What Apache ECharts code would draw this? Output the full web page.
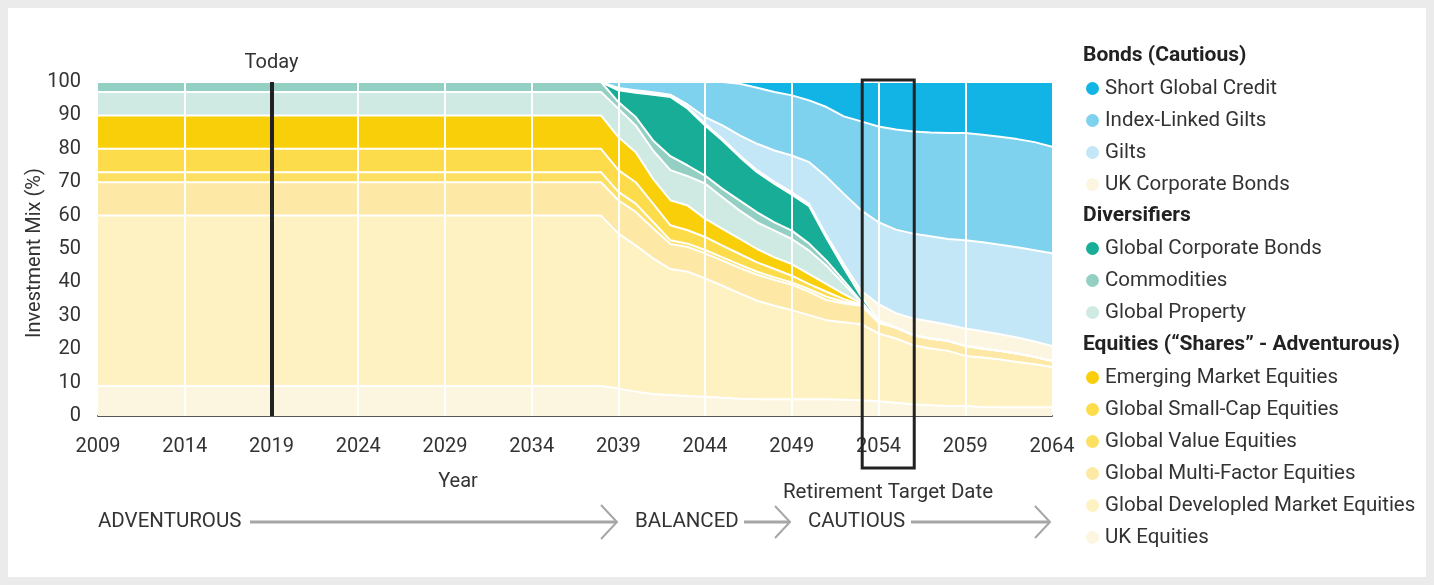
<!DOCTYPE html>
<html><head><meta charset="utf-8">
<script src="https://cdn.jsdelivr.net/npm/echarts@6/dist/echarts.min.js"></script>
<style>html,body{margin:0;padding:0;background:#ebebeb;}#c{width:1434px;height:585px;}</style>
</head><body><div id="c"></div>
<script>
const years = ['2009','2010','2011','2012','2013','2014','2015','2016','2017','2018',
 '2019','2020','2021','2022','2023','2024','2025','2026','2027','2028',
 '2029','2030','2031','2032','2033','2034','2035','2036','2037','2038',
 '2039','2040','2041','2042','2043','2044','2045','2046','2047','2048',
 '2049','2050','2051','2052','2053','2054','2055','2056','2057','2058',
 '2059','2060','2061','2062','2063','2064'];

const ukEquities = [9,9,9,9,9,9,9,9,9,9, 9,9,9,9,9,9,9,9,9,9, 9,9,9,9,9,9,9,9,9,9,
 8.2,7.3,6.6,6.3,6.0,5.8,5.5,5.2,5.0,5.0, 5.0,5.0,5.0,4.9,4.7,4.4,4.0,3.5,3.2,3.0, 3.0,2.7,2.6,2.6,2.6,2.6];
const globalDeveloped = [51,51,51,51,51,51,51,51,51,51, 51,51,51,51,51,51,51,51,51,51, 51,51,51,51,51,51,51,51,51,51,
 46.4,43.8,40.6,37.7,37.2,35.4,33.5,31.5,29.5,28, 26.7,25.2,23.7,23.2,22.8,20.3,19.2,17.7,17,16.5, 15,14.8,14.3,13.6,12.9,12.1];
const multiFactor = [10,10,10,10,10,10,10,10,10,10, 10,10,10,10,10,10,10,10,10,10, 10,10,10,10,10,10,10,10,10,10,
 10,10,9.0,7.5,7.4,7.5,7.5,7.6,7.8,7.7, 7.6,7.0,6.0,5.6,5.5,3.3,3.3,3.0,3.0,3.0, 3.0,2.7,2.6,2.5,2.2,1.8];
const valueEq = [3,3,3,3,3,3,3,3,3,3, 3,3,3,3,3,3,3,3,3,3, 3,3,3,3,3,3,3,3,3,3,
 2.5,2.5,1.9,1.1,1.0,1.0,1.0,1.0,0.9,0.8, 0.7,0.8,1.0,0.5,0.3,0,0,0,0,0, 0,0,0,0,0,0];
const smallCap = [7,7,7,7,7,7,7,7,7,7, 7,7,7,7,7,7,7,7,7,7, 7,7,7,7,7,7,7,7,7,7,
 6.5,6.4,5.5,4.5,4.0,3.9,3.5,3.2,2.8,2.5, 2.0,1.5,1.5,0.8,0.2,0,0,0,0,0, 0,0,0,0,0,0];
const emerging = [10,10,10,10,10,10,10,10,10,10, 10,10,10,10,10,10,10,10,10,10, 10,10,10,10,10,10,10,10,10,10,
 9.9,9.0,7.4,7.5,7.4,5.5,5.0,4.5,4.0,3.5, 3.5,3.0,2.3,1.5,0.3,0,0,0,0,0, 0,0,0,0,0,0];
const property = [7,7,7,7,7,7,7,7,7,7, 7,7,7,7,7,7,7,7,7,7, 7,7,7,7,7,7,7,7,7,7,
 8.5,8.0,8.5,9.0,8.8,10.5,9.5,8.5,8.0,8.0, 7.5,7.0,5.5,3.0,0.3,0,0,0,0,0, 0,0,0,0,0,0];
const commodities = [3,3,3,3,3,3,3,3,3,3, 3,3,3,3,3,3,3,3,3,3, 3,3,3,3,3,3,3,3,3,3,
 2.0,2.5,3.0,4.2,3.2,2.4,2.5,3.0,3.0,2.5, 2.5,2.1,1.5,1.0,0.2,0,0,0,0,0, 0,0,0,0,0,0];
const globalCorpBonds = [0,0,0,0,0,0,0,0,0,0, 0,0,0,0,0,0,0,0,0,0, 0,0,0,0,0,0,0,0,0,0,
 3.5,7.3,13.7,17.7,17,15,14.5,13,12,11.5, 10.8,11.2,6.7,3.8,1.5,0.6,0,0,0,0, 0,0,0,0,0,0];
const ukCorpBonds = [0,0,0,0,0,0,0,0,0,0, 0,0,0,0,0,0,0,0,0,0, 0,0,0,0,0,0,0,0,0,0,
 0.3,0.3,0.3,0.3,0.4,0.5,0.5,0.5,0.6,0.6, 0.7,0.7,0.8,1.2,1.7,4.9,4.3,5.0,5.1,4.8, 5.2,5.2,5.0,4.8,4.6,4.5];
const gilts = [0,0,0,0,0,0,0,0,0,0, 0,0,0,0,0,0,0,0,0,0, 0,0,0,0,0,0,0,0,0,0,
 0.4,0.4,0.4,0.4,0.8,2.0,4.0,6.0,7.9,9.4, 11,12.5,17.6,21,24.1,24.5,25,25.4,25.5,25.7, 26.4,26.6,26.8,27,27.3,27.7];
const indexLinked = [0,0,0,0,0,0,0,0,0,0, 0,0,0,0,0,0,0,0,0,0, 0,0,0,0,0,0,0,0,0,0,
 1.8,2.5,3.1,3.8,6.8,10.5,13,15.5,16.8,17.5, 18,18.5,20.9,23.2,26.6,28.7,30,30.6,31.1,31.7, 32.1,32.2,32.3,32.4,32.4,31.9];
const shortCredit = [0,0,0,0,0,0,0,0,0,0, 0,0,0,0,0,0,0,0,0,0, 0,0,0,0,0,0,0,0,0,0,
 0,0,0,0,0,0,0,0.5,1.7,3, 4,5.5,7.5,10.3,11.8,13.3,14.2,14.8,15.1,15.3, 15.3,15.8,16.4,17.1,18,19.4];

const gridYears = ['2014','2019','2024','2029','2034','2039','2044','2049','2054','2059'];
const todayYear = '2019';
const boxFrom = '2053', boxTo = '2056';

const bondsNames = ['Short Global Credit','Index-Linked Gilts','Gilts','UK Corporate Bonds'];
const divNames = ['Global Corporate Bonds','Commodities','Global Property'];
const eqNames = ['Emerging Market Equities','Global Small-Cap Equities','Global Value Equities','Global Multi-Factor Equities','Global Developled Market Equities','UK Equities'];

const FONT = 'Roboto, "Open Sans", sans-serif';
const TXT = '#333333';

const stackDefs = [
 ['UK Equities', ukEquities, '#fcf6e0'],
 ['Global Developled Market Equities', globalDeveloped, '#fef1c2'],
 ['Global Multi-Factor Equities', multiFactor, '#fde8a5'],
 ['Global Value Equities', valueEq, '#fde062'],
 ['Global Small-Cap Equities', smallCap, '#fddc4b'],
 ['Emerging Market Equities', emerging, '#f9cf0a'],
 ['Global Property', property, '#cfeae3'],
 ['Commodities', commodities, '#93d0c3'],
 ['Global Corporate Bonds', globalCorpBonds, '#17ad97'],
 ['UK Corporate Bonds', ukCorpBonds, '#fcf6e0'],
 ['Gilts', gilts, '#c3e7f6'],
 ['Index-Linked Gilts', indexLinked, '#7fd2ee'],
 ['Short Global Credit', shortCredit, '#12b4e5']
];

const series = stackDefs.map(([name, data, color]) => ({
 name, type: 'line', stack: 'mix', data, symbol: 'none', showSymbol: false,
 lineStyle: { color: '#ffffff', width: 2 },
 areaStyle: { color, opacity: 1 },
 itemStyle: { color },
 emphasis: { disabled: true }, silent: true
}));

series.push({
 name: 'gridlines', type: 'line', data: [], z: 10, silent: true,
 markLine: { silent: true, animation: false, symbol: ['none','none'], label: { show: false },
   lineStyle: { color: '#ffffff', width: 2, type: 'solid' },
   data: gridYears.map(y => ({ xAxis: y })) }
});
series.push({
 name: 'today', type: 'line', data: [], z: 11, silent: true,
 markLine: { silent: true, animation: false, symbol: ['none','none'],
   lineStyle: { color: '#222222', width: 4, type: 'solid' },
   label: { show: true, position: 'end', formatter: 'Today', distance: 9, fontSize: 20, color: TXT, fontFamily: FONT },
   data: [{ xAxis: todayYear }] }
});

function legendAt(names, top) {
 return { data: names, orient: 'vertical', left: 1086, top, icon: 'circle', itemWidth: 13, itemHeight: 13,
   itemGap: 11, selectedMode: false, padding: 0,
   itemStyle: { borderWidth: 0 },
   textStyle: { fontSize: 20.5, color: TXT, fontFamily: FONT, padding: [0,0,0,1] } };
}

function txt(id, text, x, y, opts) {
 const o = opts || {};
 return { type: 'text', id, x, y, z: 50, silent: true, rotation: o.rotation || 0,
   style: { text, fill: o.fill || TXT, font: (o.weight || 'normal') + ' ' + (o.size || 20.5) + 'px ' + FONT,
     align: o.align || 'left', verticalAlign: 'middle', textAlign: o.align || 'left', textVerticalAlign: 'middle' } };
}
function pl(id, pts, w) {
 return { type: 'polyline', id, z: 50, silent: true, shape: { points: pts },
   style: { stroke: '#a6a6a6', lineWidth: w, fill: null } };
}

const elements = [
 { type: 'rect', id: 'bg', z: -100, silent: true, shape: { x: 8, y: 8, width: 1418, height: 569 }, style: { fill: '#ffffff' } },
 txt('h1', 'Bonds (Cautious)', 1083, 56, { weight: 'bold', fill: '#222', size: 21 }),
 txt('h2', 'Diversifiers', 1083, 216, { weight: 'bold', fill: '#222', size: 21 }),
 txt('h3', 'Equities (\u201cShares\u201d - Adventurous)', 1083, 345, { weight: 'bold', fill: '#222', size: 21 }),
 txt('yr', 'Year', 458, 482, { align: 'center', size: 20 }),
 txt('yn', 'Investment Mix (%)', 35, 253, { align: 'center', size: 20, rotation: Math.PI / 2 }),
 txt('a1', 'ADVENTUROUS', 98, 522),
 txt('a2', 'BALANCED', 635, 522),
 txt('a3', 'CAUTIOUS', 808, 522),
 txt('a4', 'Retirement Target Date', 888, 493, { align: 'center' }),
 pl('s1', [[250,522],[616,522]], 3),
 pl('c1', [[601,505],[617,522],[601,539]], 2),
 pl('s2', [[744,522],[789,522]], 3),
 pl('c2', [[775,506],[790,522],[775,538]], 2),
 pl('s3', [[911,522],[1049,522]], 3),
 pl('c3', [[1035,506],[1050,522],[1035,538]], 2)
];

const chart = echarts.init(document.getElementById('c'));
chart.setOption({
 backgroundColor: '#ebebeb',
 animation: false,
 textStyle: { fontFamily: FONT },
 grid: { left: 98, right: 382, top: 82, bottom: 169, containLabel: false },
 xAxis: { type: 'category', data: years, boundaryGap: false,
   axisTick: { show: false }, splitLine: { show: false },
   axisLine: { lineStyle: { color: '#555555', width: 2 } },
   axisLabel: { interval: 4, margin: 21, fontSize: 20, color: TXT, fontFamily: FONT } },
 yAxis: { type: 'value', min: 0, max: 100, interval: 10,
   axisLine: { show: false }, axisTick: { show: false }, splitLine: { show: false },
   axisLabel: { fontSize: 20, color: TXT, margin: 17, fontFamily: FONT } },
 legend: [legendAt(bondsNames, 78), legendAt(divNames, 238), legendAt(eqNames, 367)],
 series,
 graphic: { elements }
});

const p1 = chart.convertToPixel({ gridIndex: 0 }, [years.indexOf(boxFrom), 100]);
const p2 = chart.convertToPixel({ gridIndex: 0 }, [years.indexOf(boxTo), 0]);
chart.setOption({ graphic: { elements: [
 { type: 'rect', id: 'box', z: 60, silent: true,
   shape: { x: p1[0] + 1, y: p1[1] - 2, width: p2[0] - p1[0], height: (p2[1] + 52) - (p1[1] - 2) },
   style: { fill: null, stroke: '#222222', lineWidth: 3 } }
] } });
</script>
</body></html>
